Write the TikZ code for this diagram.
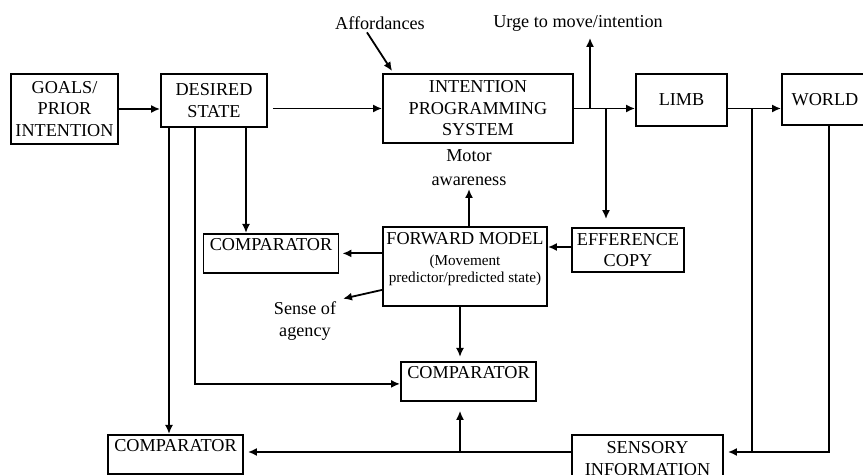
\documentclass[tikz,border=0pt]{standalone}
\usepackage{fontspec}
\setmainfont{Liberation Serif}
\usepackage{tikz}
\usetikzlibrary{positioning}
\usetikzlibrary{arrows.meta}
\newcommand{\fmsmall}{\fontsize{7.6}{8.5}\selectfont}
\tikzset{blk/.style={draw, line width=0.9pt, align=center, inner sep=1.5pt, font=\fontsize{9.1}{10.75}\selectfont}}
\tikzset{cmp/.style={blk, anchor=north, minimum width=67.5pt, text height=6.5pt, text depth=9pt, inner ysep=2pt}}
\tikzset{lbl/.style={align=center, inner sep=1pt, font=\fontsize{9.1}{11}\selectfont}}

\begin{document}
\begin{tikzpicture}[x=0.5pt, y=-0.5pt, line width=0.9pt, >={Latex[length=4.5pt,width=4pt]}]
\useasboundingbox (0,0) rectangle (863,475);
% top row
\node[blk, minimum width=53.5pt, minimum height=35pt] (goals) at (64.5,109) {GOALS/\\PRIOR\\INTENTION};
\node[blk, minimum width=53pt, minimum height=26.5pt] (desired) at (214,100.5) {DESIRED\\STATE};
\node[blk, minimum width=95pt, minimum height=34.5pt] (ips) at (478,108.5) {INTENTION\\PROGRAMMING\\SYSTEM};
\node[blk, minimum width=45.5pt, minimum height=26pt] (limb) at (681.5,100) {LIMB};
\node[blk, minimum width=43pt, minimum height=25.5pt] (world) at (825,99.5) {WORLD};
\node[lbl] (aff) at (380,23) {Affordances};
\node[lbl] (urge) at (578,23) {Urge to move/intention};
% middle
\node[cmp] (comp1) at (271,233) {COMPARATOR};
\node[blk, anchor=north, minimum width=82pt, minimum height=39.5pt] (fm) at (465,226) {};
\node[lbl, anchor=north] (fmtext) at ([yshift=-2pt]fm.north) {FORWARD MODEL\\[-0.5pt]{\fmsmall (Movement}\\[-2.5pt]{\fmsmall predictor/predicted state)}};
\node[blk, minimum width=56pt, minimum height=22pt] (eff) at (628,250) {EFFERENCE\\COPY};
\node[lbl] (motor) at (469,168) {Motor\\[1pt]awareness};
\node[lbl] (agency) at (305,321) {Sense of\\agency};
% bottom
\node[cmp] (comp2) at (468.5,361) {COMPARATOR};
\node[cmp] (comp3) at (175.5,434) {COMPARATOR};
\node[blk, anchor=north, minimum width=75.5pt, inner ysep=3.5pt] (sens) at (647.5,434) {SENSORY\\INFORMATION};

\draw[->] (goals.east) -- (goals.east -| desired.west);
\draw[->, shorten <=2.5pt] (desired.east |- ips.west) -- (ips.west);
\draw[->] (aff.south) ++(-6.5pt,0) -- ([xshift=5pt,yshift=1pt]ips.north west);
\draw[->] (ips.east) -- (ips.east -| limb.west);
\draw[->] (ips.east -| limb.east) -- (ips.east -| world.west);
\coordinate (urgept) at (590,108.5);
\coordinate (effpt) at (606,108.5);
\draw[->, shorten >=2pt] (urgept) -- (urgept |- urge.south);
\draw[->, shorten >=4pt] (effpt) -- (effpt |- eff.north);
\coordinate (fb) at (752,452);
\draw[->, shorten >=2pt] (fb |- ips.east) -- (fb) -- (fb -| sens.east);
\draw ([xshift=2pt]world.south) |- (fb);
% from the desired state
\draw[->] ([xshift=16pt]desired.south) -- ([xshift=16pt]desired.south |- comp1.north);
\draw[->] ([xshift=-22.5pt]desired.south) -- ([xshift=-22.5pt]desired.south |- comp3.north);
\draw[->] ([xshift=-9.5pt]desired.south) |- ([yshift=-1.25pt]comp2.west);
% forward model
\draw[->, shorten >=1.5pt] (fm.west |- comp1.east) -- (comp1.east);
\draw[->] ([yshift=-11.75pt]fm.west) -- ([xshift=2pt]agency.north east);
\draw[->] ([yshift=1.5pt]eff.west) -- ([yshift=1.5pt]eff.west -| fm.east);
\draw[->] ([xshift=2pt]fm.north) -- ([xshift=2pt]fm.north |- motor.south);
\draw[->, shorten >=2pt] ([xshift=-2.5pt]fm.south) -- ([xshift=-2.5pt]fm.south |- comp2.north);
% sensory feedback
\draw[->, shorten >=2pt] (sens.west |- fb) -- (comp3.east |- fb);
\coordinate (upt) at (460,452);
\draw[->, shorten >=4.5pt] (upt) -- (upt |- comp2.south);
\end{tikzpicture}
\end{document}
